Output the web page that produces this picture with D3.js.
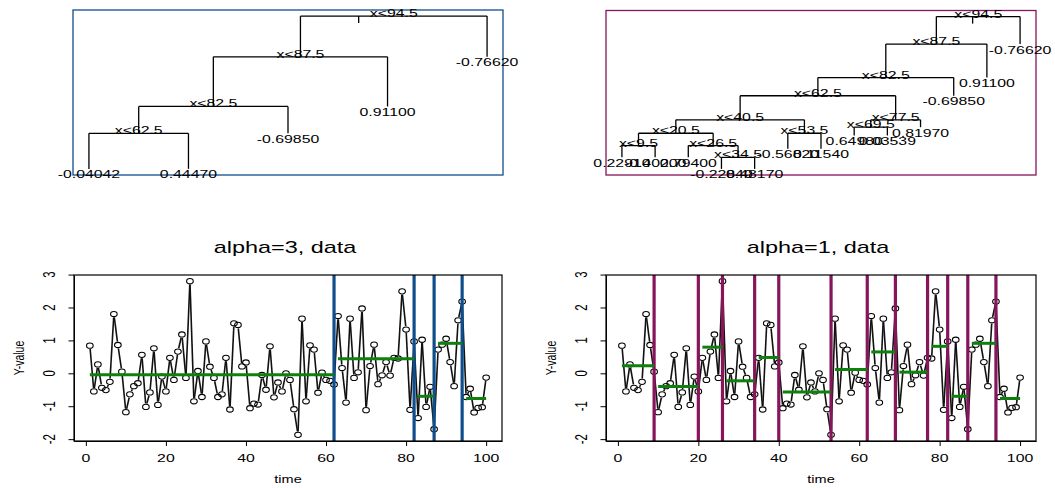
<!DOCTYPE html>
<html>
<head>
<meta charset="utf-8">
<script src="https://cdn.jsdelivr.net/npm/d3@7"></script>
<style>
  body { margin: 0; background: #fff; }
  svg { display: block; }
  text { font-family: "Liberation Sans", Arial, Helvetica, sans-serif; fill: #000; font-weight: 400; }
</style>
</head>
<body>
<svg id="chart" width="1055" height="488"></svg>
<script>
// ---- observations: y at time 1..100 ----
const timeIdx = d3.range(1, 101);
const yValues = [
   0.84, -0.55,  0.27, -0.44, -0.51, -0.26,  1.80,  0.86,  0.05, -1.18,
  -0.64, -0.39, -0.30,  0.56, -1.02, -0.58,  0.76, -0.96, -0.10, -0.55,
   0.47, -0.20,  0.66,  1.18, -0.14,  2.80, -0.85,  0.07, -0.72,  0.97,
   0.20, -0.14, -0.72, -0.64,  0.47, -1.10,  1.52,  1.47,  0.21,  0.33,
  -1.06, -0.92, -0.95, -0.05, -0.50,  0.82, -0.73, -0.28, -0.55,  0.00,
  -0.20, -1.09, -1.87,  1.66, -0.85,  0.85,  0.72, -0.59,  0.02, -0.20,
  -0.23, -0.34,  1.74,  0.16, -0.89,  1.66, -0.14,  0.03,  1.97, -1.12,
   0.22,  0.87, -0.33, -0.06,  0.34, -0.07,  0.47,  0.45,  2.49,  1.33,
  -1.11,  0.97, -1.36,  1.02, -1.02, -0.41, -1.70,  0.72,  0.87,  1.05,
   0.34, -0.39,  1.61,  2.18, -0.72, -0.47, -1.19, -1.05, -1.03, -0.13
];

// ---- alpha = 3 fit: segment last index and segment (leaf) means ----
const segEnds3  = [62, 82, 87, 94, 100];
const segMeans3 = [-0.04042, 0.4447, -0.6985, 0.911, -0.7662];
const splitNode3 = [1, 2, 4, 8];
const splitAt3   = [94.5, 87.5, 82.5, 62.5];
const splitDrop3 = [4.17, 5.09, 2.75, 3.65];
const leafNode3  = [16, 17, 9, 5, 3];

// ---- alpha = 1 fit ----
const segEnds1  = [9, 20, 26, 34, 40, 53, 62, 69, 77, 82, 87, 94, 100];
const segMeans1 = [0.2291, -0.402, 0.794, -0.2284, 0.4817, -0.5682, 0.1154,
                   0.6498, 0.03539, 0.8197, -0.6985, 0.911, -0.7662];
const splitNode1 = [1, 2, 4, 8, 16, 17, 32, 33, 34, 64, 65, 131];
const splitAt1   = [94.5, 87.5, 82.5, 62.5, 40.5, 77.5, 20.5, 53.5, 69.5, 9.5, 26.5, 34.5];
const splitDrop1 = [4.17, 5.09, 2.75, 3.65, 2.04, 1.12, 1.87, 2.37, 1.26, 1.78, 1.78, 1.76];
const leafNode1  = [128, 129, 130, 262, 263, 66, 67, 68, 69, 35, 9, 5, 3];

// root marker position, in leaf units
const rootStubAt = [3.71, 11.57];

// ---- axis ticks ----
const xTicks = [0, 20, 40, 60, 80, 100];
const yTicks = [-2, -1, 0, 1, 2, 3];

const svg = d3.select("#chart");
const SX = 1.32, SY = 0.95;           // wide text rendering
const BLUE = "#104E8B", MAROON = "#86155b", GREEN = "#0d800d";

function pad(ext) { const r = ext[1] - ext[0]; return [ext[0] - 0.04 * r, ext[1] + 0.04 * r]; }

function txt(g, x, y, str, size, opt = {}) {
  const sx = opt.sx || SX;
  const rot = opt.rotate ? ` rotate(${opt.rotate})` : "";
  return g.append("text")
    .attr("transform", `translate(${x},${y}) scale(${sx},${SY})${rot}`)
    .attr("text-anchor", opt.anchor || "middle")
    .attr("font-size", size)
    .text(str);
}

// ---------- time series panel ----------
function seriesPanel(box, ends, means, breakColor, title) {
  const g = svg.append("g");
  const x = d3.scaleLinear().domain(pad([1, 100])).range([box.left, box.right]);
  const y = d3.scaleLinear().domain(pad(d3.extent(yValues))).range([box.bottom, box.top]);

  // axes
  g.append("g").attr("transform", `translate(0,${box.bottom})`)
    .call(d3.axisBottom(x).tickValues(xTicks).tickSize(5).tickSizeOuter(0).tickFormat(""))
    .call(a => a.selectAll("line,path").attr("stroke", "#000"));
  g.append("g").attr("transform", `translate(${box.left},0)`)
    .call(d3.axisLeft(y).tickValues(yTicks).tickSize(5.5).tickSizeOuter(0).tickFormat(""))
    .call(a => a.selectAll("line,path").attr("stroke", "#000"));
  xTicks.forEach(t => txt(g, x(t), 462, String(t), 12));
  yTicks.forEach(t => txt(g, box.left - 19, y(t), String(t), 12, { rotate: -90 }));
  txt(g, (box.left + box.right) / 2, 483, "time", 11);
  txt(g, box.left - 50, (box.top + box.bottom) / 2, "Y-value", 11, { rotate: -90 });
  txt(g, (box.left + box.right) / 2 - 3, 253, title, 17, { sx: 1.38 });

  // line-and-point trace, lines stop short of the markers
  const pts = timeIdx.map((t, i) => [x(t), y(yValues[i])]);
  const rx = 3.3, ry = 2.6;
  const segs = d3.pairs(pts).map(([a, b]) => {
    const dx = b[0] - a[0], dy = b[1] - a[1], L = Math.hypot(dx, dy);
    const ux = dx / L, uy = dy / L;
    const gap = 1 / Math.sqrt((ux / rx) ** 2 + (uy / ry) ** 2) + 0.8;
    if (L <= 2 * gap) return null;
    return [a[0] + ux * gap, a[1] + uy * gap, b[0] - ux * gap, b[1] - uy * gap];
  }).filter(Boolean);
  g.append("g").selectAll("line").data(segs).join("line")
    .attr("x1", d => d[0]).attr("y1", d => d[1]).attr("x2", d => d[2]).attr("y2", d => d[3])
    .attr("stroke", "#111").attr("stroke-width", 1.6);
  g.append("g").selectAll("ellipse").data(pts).join("ellipse")
    .attr("cx", d => d[0]).attr("cy", d => d[1]).attr("rx", rx).attr("ry", ry)
    .attr("fill", "none").attr("stroke", "#000").attr("stroke-width", 1.1);

  // change points
  g.append("g").selectAll("line").data(ends.slice(0, -1)).join("line")
    .attr("x1", d => x(d)).attr("x2", d => x(d))
    .attr("y1", box.top).attr("y2", box.bottom)
    .attr("stroke", breakColor).attr("stroke-width", 3.2);

  // segment means
  const starts = ends.map((e, i) => i === 0 ? 1 : ends[i - 1] + 1);
  g.append("g").selectAll("line").data(means).join("line")
    .attr("x1", (d, i) => x(starts[i])).attr("x2", (d, i) => x(ends[i]))
    .attr("y1", d => y(d)).attr("y2", d => y(d))
    .attr("stroke", GREEN).attr("stroke-width", 3);

  g.append("rect").attr("x", box.left).attr("y", box.top)
    .attr("width", box.right - box.left).attr("height", box.bottom - box.top)
    .attr("fill", "none").attr("stroke", "#000").attr("stroke-width", 1.2);
}

// ---------- regression tree panel ----------
function treePanel(box, splitNode, splitAt, splitDrop, leafNode, leafValue, boxColor, stubAt) {
  const g = svg.append("g");
  const info = new Map();
  splitNode.forEach((id, i) => info.set(id, { id, at: splitAt[i], drop: splitDrop[i] }));
  leafNode.forEach((id, i) => info.set(id, { id, leaf: true, value: leafValue[i], pos: i + 1 }));

  // horizontal position: leaves 1..n, splits centred between children
  function place(id, depth) {
    const n = info.get(id);
    n.depth = depth;
    if (n.leaf) { n.x = n.pos; return n; }
    n.left = place(2 * id, depth + n.drop);
    n.right = place(2 * id + 1, depth + n.drop);
    n.x = (n.left.x + n.right.x) / 2;
    return n;
  }
  place(1, 0);
  const nodes = [...info.values()];
  const maxDepth = d3.max(nodes, d => d.depth);

  const x = d3.scaleLinear().domain(pad([1, leafNode.length])).range([box.left, box.right]);
  const y = d3.scaleLinear().domain(pad([0, maxDepth])).range([box.top, box.bottom]);

  const splits = nodes.filter(d => !d.leaf);
  const edges = [];
  splits.forEach(n => {
    edges.push([x(n.left.x), y(n.depth), x(n.right.x), y(n.depth)]);
    [n.left, n.right].forEach(c => edges.push([x(c.x), y(n.depth), x(c.x), y(c.depth)]));
  });
  edges.push([x(stubAt), y(0), x(stubAt), y(0) + 7]);

  g.selectAll("line").data(edges).join("line")
    .attr("x1", d => d[0]).attr("y1", d => d[1]).attr("x2", d => d[2]).attr("y2", d => d[3])
    .attr("stroke", "#000").attr("stroke-width", 1.3);

  g.append("rect").attr("x", box.left).attr("y", box.top)
    .attr("width", box.right - box.left).attr("height", box.bottom - box.top)
    .attr("fill", "none").attr("stroke", boxColor).attr("stroke-width", 1.3);

  splits.forEach(n => txt(g, x(n.x), y(n.depth) + 1, `x<${n.at}`, 12));
  nodes.filter(d => d.leaf).forEach(n => txt(g, x(n.x), y(n.depth) + 9.5, n.value.toFixed(5), 12));
}

treePanel({ left: 73, right: 503, top: 10, bottom: 175 },
  splitNode3, splitAt3, splitDrop3, leafNode3, segMeans3, BLUE, rootStubAt[0]);
treePanel({ left: 606, right: 1036, top: 10.5, bottom: 175 },
  splitNode1, splitAt1, splitDrop1, leafNode1, segMeans1, MAROON, rootStubAt[1]);

seriesPanel({ left: 74, right: 502, top: 275, bottom: 441 }, segEnds3, segMeans3, BLUE, "alpha=3, data");
seriesPanel({ left: 606, right: 1036, top: 275, bottom: 441 }, segEnds1, segMeans1, MAROON, "alpha=1, data");
</script>
</body>
</html>
